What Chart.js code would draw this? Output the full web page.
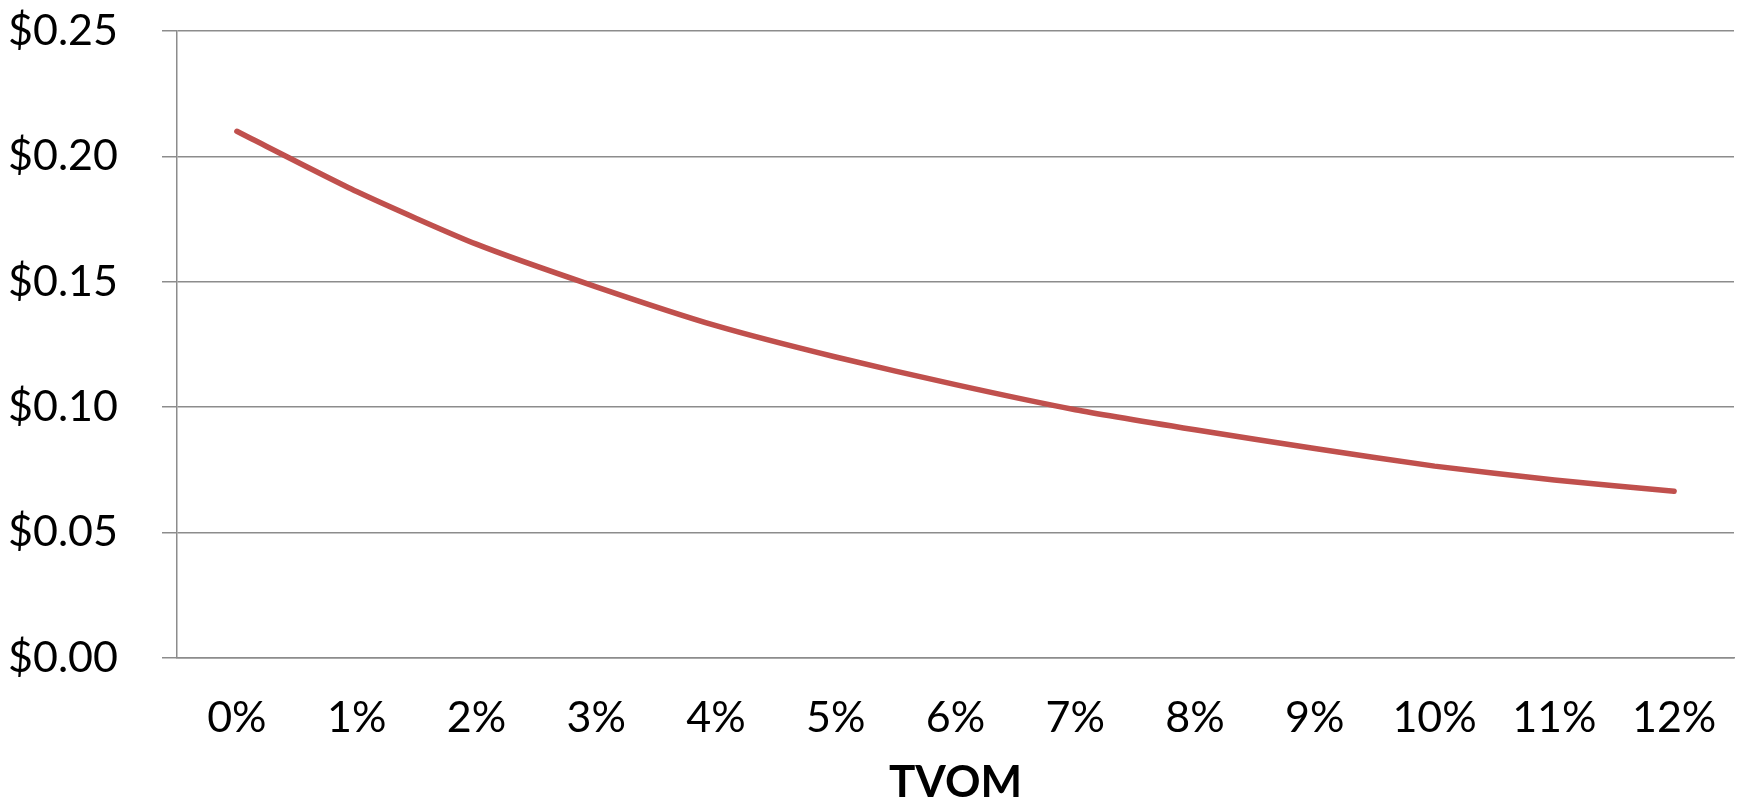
<!DOCTYPE html>
<html>
<head>
<meta charset="utf-8">
<title>TVOM</title>
<script src="https://cdn.jsdelivr.net/npm/chart.js@4"></script>
<style>
    html, body { margin: 0; padding: 0; background: #fff; }
    .wrap { width: 1739px; height: 805px; }
</style>
</head>
<body>
<div class="wrap"><canvas id="myChart"></canvas></div>
<script>
const rates = ['0%','1%','2%','3%','4%','5%','6%','7%','8%','9%','10%','11%','12%'];
const values = [0.210, 0.186, 0.165, 0.148, 0.1325, 0.120, 0.109, 0.099, 0.091, 0.0835, 0.0765, 0.071, 0.0665];
const yTicks = [0, 0.05, 0.10, 0.15, 0.20, 0.25];

const labelFont = { family: 'Lato, "Open Sans", sans-serif', size: 43 };
const gridColor = '#8c8c8c';

const ctx = document.getElementById('myChart').getContext('2d');
const myChart = new Chart(ctx, {
    type: 'line',
    data: {
        labels: rates,
        datasets: [{
            label: 'Value',
            data: values,
            borderColor: '#c0504d',
            borderWidth: 5.5,
            borderCapStyle: 'round',
            borderJoinStyle: 'round',
            pointRadius: 0,
            tension: 0.2,
            fill: false
        }]
    },
    options: {
        responsive: true,
        maintainAspectRatio: false,
        animation: false,
        layout: { padding: { top: 31, right: 5, left: 0, bottom: 0 } },
        plugins: {
            legend: { display: false },
            tooltip: { enabled: false }
        },
        scales: {
            x: {
                offset: true,
                grid: { display: false, drawTicks: false },
                border: { display: true, color: gridColor, width: 1.5 },
                ticks: { color: '#000', font: labelFont, padding: 34, maxRotation: 0, autoSkip: false },
                title: {
                    display: true,
                    text: 'TVOM',
                    color: '#000',
                    font: { family: labelFont.family, size: 44, weight: 'bold', lineHeight: 1.0 },
                    padding: { top: 6, bottom: 0 }
                },
                afterFit: scale => {
                    scale.height = 147;
                    scale.paddingLeft = 0;
                    scale.paddingRight = 0;
                }
            },
            y: {
                min: 0,
                max: 0.25,
                afterBuildTicks: scale => { scale.ticks = yTicks.map(v => ({ value: v })); },
                grid: { color: gridColor, lineWidth: 1.5, tickLength: 15, drawTicks: true },
                border: { display: true, color: gridColor, width: 1.5 },
                ticks: {
                    color: '#000',
                    font: labelFont,
                    padding: 44,
                    callback: v => '$' + Number(v).toFixed(2)
                },
                afterFit: scale => {
                    scale.width = 177;
                    // keep the top gridline on the layout padding, not the label overflow
                    scale.paddingTop = 0;
                    scale.paddingBottom = 0;
                }
            }
        }
    }
});
</script>
</body>
</html>
